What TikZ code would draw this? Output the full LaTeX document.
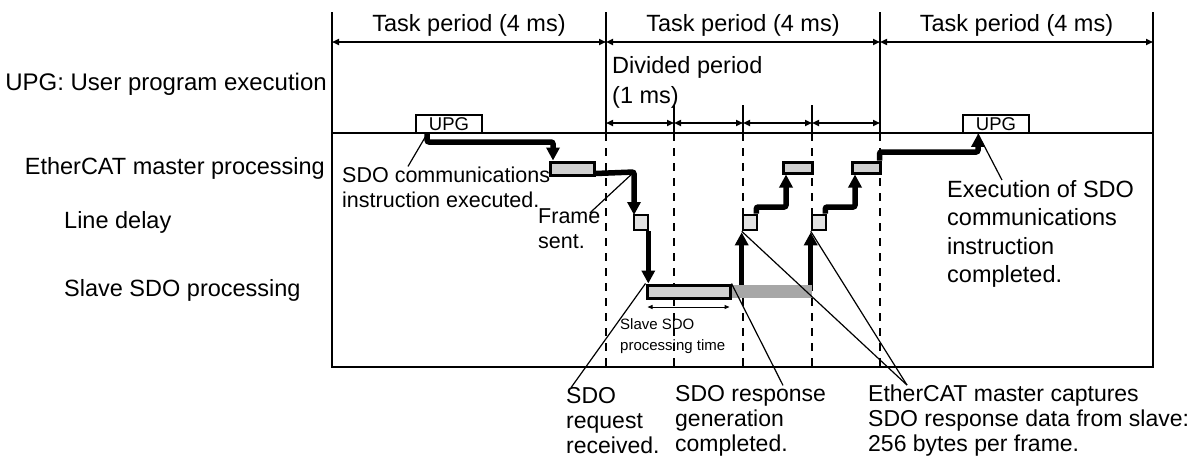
\documentclass[tikz,border=0pt]{standalone}
\usepackage{fontspec}
\setmainfont{Liberation Sans}
\usetikzlibrary{arrows.meta}

\definecolor{boxgray}{HTML}{D0D0D0}
\definecolor{ldgray}{HTML}{E2E2E2}
\definecolor{waitgray}{HTML}{A7A7A7}

\tikzset{
  frame/.style={line width=1.8pt},
  divline/.style={line width=1.8pt,dash pattern=on 8pt off 7pt},
  period/.style={line width=1.6pt,{Triangle[length=7pt,width=6pt]}-{Triangle[length=7pt,width=6pt]}},
  flow/.style={line width=5.5pt,rounded corners=2pt,-{Triangle[length=13pt,width=13pt]}},
  lead/.style={line width=1.2pt},
  lab/.style={inner sep=0pt,font=\fontsize{23.5}{28.5}\selectfont,align=left},
  note/.style={inner sep=0pt,font=\fontsize{21.5}{25}\selectfont,align=left},
  capt/.style={inner sep=0pt,font=\fontsize{23}{25}\selectfont,align=left},
  upgbox/.style={draw,line width=1.8pt,fill=white,inner sep=0pt,
    minimum width=66pt,minimum height=18pt,font=\fontsize{18.5}{18.5}\selectfont},
  ecbox/.style={draw,line width=3pt,fill=boxgray,inner sep=0pt},
  ldbox/.style={draw,line width=2.6pt,fill=ldgray,inner sep=0pt,
    minimum width=14pt,minimum height=15pt}
}

\begin{document}
\begin{tikzpicture}[x=1pt,y=-1pt]
  \useasboundingbox (0,0) rectangle (1191,471);

  % frame
  \draw[frame] (332,12) -- (332,367) -- (1153,367) -- (1153,12);
  \draw[frame] (332,133) -- (1153,133);
  \foreach \x in {606,880}
    \draw[frame] (\x,12) -- (\x,133);
  \foreach \x in {674,743,812}
    \draw[frame] (\x,105) -- (\x,133);
  \foreach \x in {606,674,743,812,880}
    \draw[divline] (\x,133) -- (\x,367);

  % periods
  \foreach \a/\b in {332/606,606/880,880/1153}{
    \draw[period] (\a,42) -- (\b,42);
    \node[lab] at ({(\a+\b)/2},25) {Task period (4 ms)};
  }
  \foreach \a/\b in {606/674,674/743,743/812,812/880}
    \draw[period] (\a,123) -- (\b,123);
  \node[lab,anchor=west] (divp) at (612,67) {Divided period};
  \node[lab,anchor=west] (divms) at (612,97) {(1 ms)};

  % row labels
  \node[lab,anchor=east,font=\fontsize{24}{28}\selectfont] (rupg) at (327,84) {UPG: User program execution};
  \node[lab,anchor=east] (recat) at (325,168) {EtherCAT master processing};
  \node[lab,anchor=west] (rline) at (64,222) {Line delay};
  \node[lab,anchor=west] (rslave) at (64,290) {Slave SDO processing};

  % boxes
  \node[upgbox] (upgA) at (449,124) {UPG};
  \node[upgbox] (upgB) at (996,124) {UPG};
  \node[ecbox,minimum width=44pt,minimum height=13pt] (ecatA) at (572,168.5) {};
  \node[fill=waitgray,inner sep=0pt,minimum width=82pt,minimum height=13pt] (wait) at (771,291.5) {};
  \node[ecbox,minimum width=83pt,minimum height=13pt] (slv) at (688.5,291.5) {};
  \node[ecbox,minimum width=29pt,minimum height=11pt] (ecatB) at (797.5,167.5) {};
  \node[ecbox,minimum width=28pt,minimum height=11pt] (ecatC) at (866,167.5) {};

  % flow
  \coordinate (k1) at (553,142);
  \coordinate (k2) at (634,172);
  \coordinate (k5) at (786,207);
  \coordinate (k6) at (855,207);
  \coordinate (k7) at (978,152);
  \draw[flow] ([xshift=12pt]upgA.south west) |- (k1) -- (k1 |- ecatA.north);
  \draw[flow] ([yshift=3pt]ecatA.south east) -- (k2) -- (k2 |- 0,215);
  \node[ldbox] (ldA) at (641,222.5) {};
  \draw[flow] ([xshift=-1pt]ldA.south east) -- ([xshift=-1pt]ldA.south east |- slv.north);
  \node[ldbox] (ldB) at (750,222.5) {};
  \node[ldbox] (ldC) at (819,222.5) {};
  \draw[flow] (wait.north west -| ldB.south west) -- ([yshift=-1pt]ldB.south west);
  \draw[flow] (wait.north east -| ldC.south west) -- ([yshift=-1pt]ldC.south west);
  \draw[flow] ([xshift=-2pt]ldB.north east) |- (k5) -- (k5 |- ecatB.south);
  \draw[flow] ([xshift=-2pt]ldC.north east) |- (k6) -- (k6 |- ecatC.south);
  \draw[flow] ([xshift=-2pt]ecatC.north east) |- (k7) -- (k7 |- upgB.south);
  \node[ldbox] at (ldA) {};
  \node[ldbox] at (ldB) {};
  \node[ldbox] at (ldC) {};

  % processing time
  \draw[line width=1pt,{Triangle[length=5pt,width=4pt]}-{Triangle[length=5pt,width=4pt]}]
    ([xshift=2pt]slv.south west |- 0,307) -- ([xshift=-2pt]slv.south east |- 0,307);
  \node[inner sep=0pt,font=\fontsize{15}{21}\selectfont,align=left,anchor=west] (ptime) at (620,336)
    {Slave SDO\\processing time};

  % notes
  \node[note,anchor=west] (nexec) at (342,187) {SDO communications\\instruction executed.};
  \node[note,anchor=west] (nframe) at (538,229) {Frame\\sent.};
  \node[lab,anchor=west] (ndone) at (947,234) {Execution of SDO\\communications\\instruction\\completed.};
  \node[capt,anchor=west] (nreq) at (566,421) {SDO\\request\\received.};
  \node[capt,anchor=west] (nresp) at (675,421) {SDO response\\generation\\completed.};
  \node[capt,anchor=west] (ncap) at (868,421) {EtherCAT master captures\\SDO response data from slave:\\256 bytes per frame.};

  % leaders
  \draw[lead] ([xshift=66pt]nexec.north west) -- ([xshift=12pt]upgA.south west);
  \draw[lead] ([xshift=52pt,yshift=-4pt]nframe.north west) -- (k2);
  \draw[lead] ([xshift=55pt]ndone.north west) -- (k7 |- upgB.south);
  \draw[lead] ([xshift=5pt]nreq.north west) -- (slv.north west);
  \draw[lead] ([xshift=108pt]nresp.north west) -- (slv.north east);
  \draw[lead] ([xshift=39pt]ncap.north west) -- (ldB.south west);
  \draw[lead] ([xshift=39pt]ncap.north west) -- (ldC.south west);
\end{tikzpicture}
\end{document}
